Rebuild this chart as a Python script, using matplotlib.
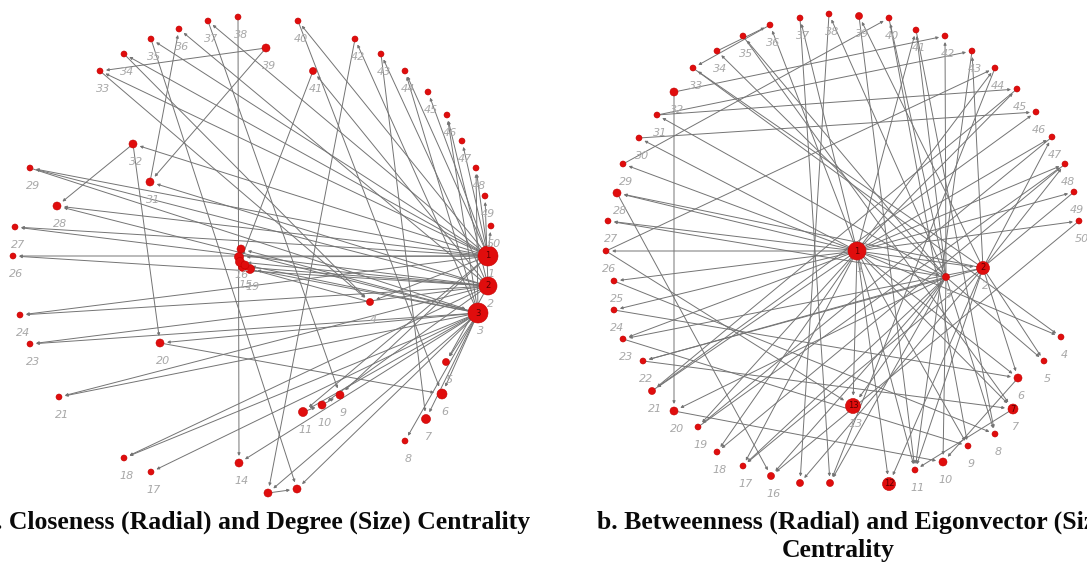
import matplotlib.pyplot as plt

# node positions (pixel space of the figure) and radii, nodes 1..50
left_x = [488, 488, 478, 370, 446, 442, 426, 405, 340, 322,
          303, 297, 268, 239, 243, 239, 151, 124, 250, 160,
          59, 240, 30, 20, 241, 13, 15, 57, 30, 245,
          150, 133, 100, 124, 151, 179, 208, 238, 266, 298,
          313, 355, 381, 405, 428, 447, 462, 476, 485, 491]
left_y = [256, 286, 313, 302, 362, 394, 419, 441, 395, 405,
          412, 489, 493, 463, 267, 257, 472, 458, 269, 343,
          397, 262, 344, 315, 249, 256, 227, 206, 168, 265,
          182, 144, 71, 54, 39, 29, 21, 17, 48, 21,
          71, 39, 54, 71, 92, 115, 141, 168, 196, 226]
left_r = [10, 9, 10, 3.5, 3.5, 5, 4.5, 3, 4, 4,
          4.5, 4, 4, 4, 4.5, 4.5, 3, 3, 4.5, 4,
          3, 4.5, 3, 3, 4, 3, 3, 4, 3, 4,
          4, 4, 3, 3, 3, 3, 3, 3, 4, 3,
          3.5, 3, 3, 3, 3, 3, 3, 3, 3, 3]
left_hidden = [12, 13, 22, 25, 30]

right_x = [857, 983, 946, 1061, 1044, 1018, 1013, 995, 968, 943,
           915, 889, 853, 830, 800, 771, 743, 717, 698, 674,
           652, 643, 623, 614, 614, 606, 608, 617, 623, 639,
           657, 674, 693, 717, 743, 770, 800, 829, 859, 889,
           916, 945, 972, 995, 1017, 1036, 1052, 1065, 1074, 1079]
right_y = [251, 268, 277, 337, 361, 378, 409, 434, 446, 462,
           470, 484, 406, 483, 483, 476, 466, 452, 427, 411,
           391, 361, 339, 310, 281, 251, 221, 193, 164, 138,
           115, 92, 68, 51, 36, 25, 18, 14, 16, 18,
           30, 36, 51, 68, 89, 112, 137, 164, 192, 221]
right_r = [9, 6.5, 3.5, 3, 3, 4, 5, 3, 3, 4,
           3, 6.5, 7.5, 3.5, 3.5, 3.5, 3, 3, 3, 4,
           3.5, 3, 3, 3, 3, 3, 3, 4, 3, 3,
           3, 4, 3, 3, 3, 3, 3, 3, 3.5, 3,
           3, 3, 3, 3, 3, 3, 3, 3, 3, 3]
right_hidden = [12, 14, 15]

left_edges = [(1, 26), (1, 27), (1, 29), (1, 28), (1, 24), (1, 33), (1, 34), (1, 35),
              (1, 37), (1, 40), (1, 44), (1, 45), (1, 47), (1, 48), (1, 50), (1, 4),
              (1, 16), (1, 11), (1, 9), (1, 32),
              (2, 26), (2, 27), (2, 23), (2, 24), (2, 21), (2, 31), (2, 36), (2, 43),
              (2, 46), (2, 49), (2, 10), (2, 5), (2, 15), (2, 18), (2, 29), (2, 22), (2, 41),
              (3, 23), (3, 21), (3, 20), (3, 18), (3, 17), (3, 14), (3, 13), (3, 12),
              (3, 11), (3, 8), (3, 7), (3, 6), (3, 5), (3, 25), (3, 30), (3, 42),
              (3, 44), (3, 46), (3, 48), (3, 28), (3, 19),
              (39, 33), (39, 31), (32, 28), (32, 20), (38, 14), (31, 36), (35, 12),
              (42, 13), (40, 6), (43, 7), (37, 9), (11, 10), (10, 9), (13, 12),
              (20, 6), (4, 15), (41, 22), (34, 4), (33, 4), (29, 3)]

right_edges = [(1, 26), (1, 27), (1, 28), (1, 29), (1, 30), (1, 24), (1, 25), (1, 23),
               (1, 21), (1, 19), (1, 18), (1, 17), (1, 13), (1, 12), (1, 11), (1, 9),
               (1, 7), (1, 6), (1, 4), (1, 44), (1, 45), (1, 47), (1, 48), (1, 49),
               (1, 50), (1, 37), (1, 36), (1, 41), (1, 3), (1, 2),
               (3, 13), (3, 16), (3, 17), (3, 14), (3, 10), (3, 35), (3, 34), (3, 31),
               (3, 22), (3, 40), (3, 41), (3, 38), (3, 42), (3, 5), (3, 8), (3, 20), (3, 27),
               (2, 48), (2, 47), (2, 43), (2, 12), (2, 11), (2, 22), (2, 28), (2, 23),
               (2, 39), (2, 5), (2, 6), (2, 15), (2, 33),
               (32, 20), (34, 36), (36, 33), (29, 40), (30, 46), (31, 43), (32, 42),
               (31, 45), (26, 44), (25, 8), (28, 16), (38, 15), (23, 9), (22, 7),
               (20, 10), (24, 6), (37, 14), (39, 11), (40, 9), (41, 8), (43, 11),
               (44, 14), (45, 21), (47, 19), (48, 18), (49, 17), (50, 16), (33, 4),
               (35, 7), (6, 10), (7, 11), (26, 13), (21, 46), (19, 48)]

hubs_left = [1, 2, 3]
hubs_right = [1, 2, 7, 12, 13]

title_a = 'a. Closeness (Radial) and Degree (Size) Centrality'
title_b1 = 'b. Betweenness (Radial) and Eigonvector (Size)'
title_b2 = 'Centrality'

fig = plt.figure(figsize=(10.87, 5.62), dpi=100)
ax = fig.add_axes([0, 0, 1, 1])
ax.set_xlim(0, 1087)
ax.set_ylim(562, 0)
ax.axis('off')

PT = 0.72  # px -> points at 100 dpi


def draw_network(xs, ys, rs, edges, hidden, hubs):
    for a, b in edges:
        ax.annotate('', xy=(xs[b-1], ys[b-1]), xytext=(xs[a-1], ys[a-1]),
                    arrowprops=dict(arrowstyle='-|>', color='#747474', lw=0.7,
                                    mutation_scale=4,
                                    shrinkA=rs[a-1]*PT, shrinkB=(rs[b-1]+3)*PT),
                    zorder=1)
    sizes = [(2*r*PT)**2 for r in rs]
    ax.scatter(xs, ys, s=sizes, color='#e00d0d', edgecolors='#c40000',
               linewidths=0.4, zorder=3)
    for i in range(len(xs)):
        n = i + 1
        if n in hubs:
            ax.text(xs[i], ys[i], str(n), ha='center', va='center', fontsize=6,
                    color='#5a0000', zorder=4)
        if n in hidden:
            continue
        ax.text(xs[i]+3, ys[i]+18, str(n), ha='center', va='center', fontsize=8,
                color='#a8a8a8', style='italic', zorder=4)


draw_network(left_x, left_y, left_r, left_edges, left_hidden, hubs_left)
draw_network(right_x, right_y, right_r, right_edges, right_hidden, hubs_right)

tfont = dict(family='Liberation Serif', fontweight='bold', fontsize=18.5, color='#0a0a0a')
ax.text(530, 522, title_a, ha='right', va='center', **tfont)
ax.text(597, 522, title_b1, ha='left', va='center', **tfont)
ax.text(838, 551, title_b2, ha='center', va='center', **tfont)

plt.savefig('out.png', dpi=100)
